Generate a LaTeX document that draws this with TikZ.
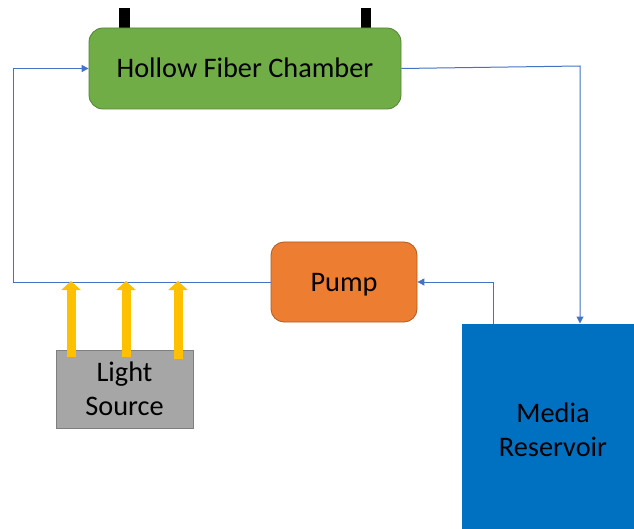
\documentclass[tikz,border=0pt]{standalone}
\usepackage{fontspec}
\setmainfont{Carlito}
\usetikzlibrary{arrows.meta}
\definecolor{flowblue}{HTML}{4472C4}
\definecolor{chgreen}{HTML}{70AD47}
\definecolor{chgreenedge}{HTML}{548235}
\definecolor{pumporange}{HTML}{ED7D31}
\definecolor{pumpedge}{HTML}{AE5A21}
\definecolor{lightgray}{HTML}{A6A6A6}
\definecolor{lightedge}{HTML}{7F7F7F}
\definecolor{resblue}{HTML}{0070C0}
\definecolor{beamyellow}{HTML}{FFC000}
\tikzset{
  boxtext/.style={font=\fontsize{28.3}{34}\selectfont, text=black, align=center, inner sep=0pt},
  oneline/.style={text height=18.2pt, text depth=0pt},
  flow/.style={draw=flowblue, line width=1pt, -{Triangle[width=7pt,length=7pt]}},
  beam/.style={draw=beamyellow, line width=9pt, -{Triangle[width=19pt,length=9pt]}},
  tab/.style={fill=black, draw=none}
}
\begin{document}
\begin{tikzpicture}[x=1pt, y=-1pt]
  \useasboundingbox (0,0) rectangle (634,529);

  % fixing tabs on top of the chamber
  \fill[tab] (119,8) rectangle (130,29);
  \fill[tab] (361,8) rectangle (371,29);

  % components
  \node[boxtext, oneline, rounded corners=14pt, fill=chgreen, draw=chgreenedge, line width=0.8pt,
        minimum width=312pt, minimum height=81pt] (hfc) at (245,68.5) {Hollow Fiber Chamber};
  \node[boxtext, oneline, rounded corners=13pt, fill=pumporange, draw=pumpedge, line width=0.8pt,
        minimum width=146pt, minimum height=80pt] (pump) at (344,282) {Pump};
  \node[boxtext, fill=lightgray, draw=lightedge, line width=0.8pt,
        minimum width=137pt, minimum height=78pt] (light) at (124.5,389) {Light\\Source};
  \node[fill=resblue, draw=none, inner sep=0pt,
        minimum width=173pt, minimum height=206pt] (res) at (548,426.5) {};
  \node[boxtext] (restext) at ([xshift=5pt, yshift=-3pt]res.center) {Media\\Reservoir};

  % ports on the reservoir, corner of the supply line and the left return rail
  \coordinate (resin) at (580,323.5);
  \coordinate (resout) at (493,323.5);
  \coordinate (rcorner) at (580,66);
  \coordinate (rail) at (13,0);

  % circulation loop
  \draw[flow] (hfc.east) -- (rcorner) -- (resin);
  \draw[flow] (resout) |- (pump.east);
  \draw[flow] (pump.west) -| (rail |- hfc.west) -- (hfc.west);

  % light beams
  \coordinate (b1s) at (71,357);
  \coordinate (b2s) at (126,357);
  \coordinate (b3s) at (178,359);
  \coordinate (b1e) at (71,281);
  \coordinate (b2e) at (126,281);
  \coordinate (b3e) at (178,281);
  \draw[beam] (b1s) -- (b1e);
  \draw[beam] (b2s) -- (b2e);
  \draw[beam] (b3s) -- (b3e);
\end{tikzpicture}
\end{document}
